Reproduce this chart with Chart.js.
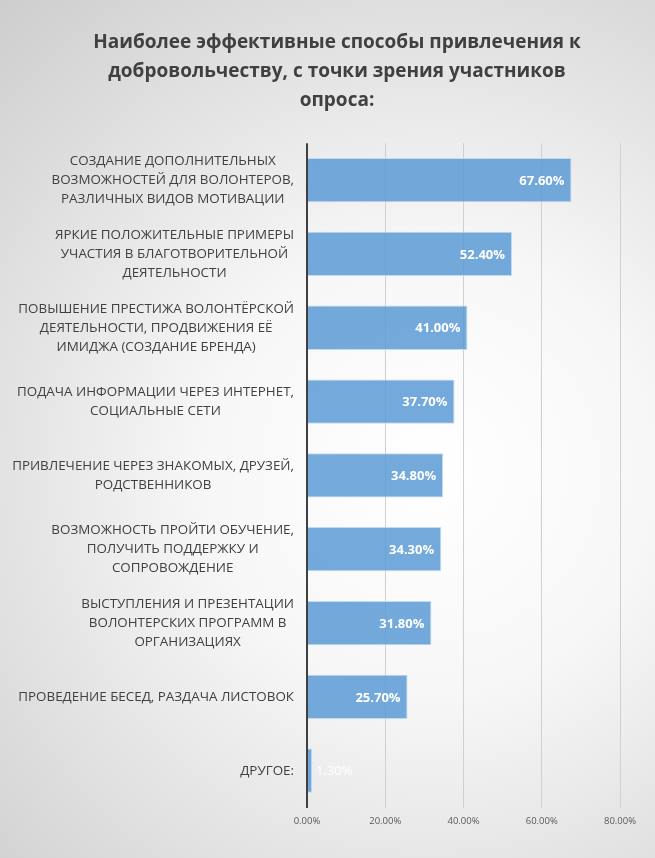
<!DOCTYPE html>
<html>
<head>
<meta charset="utf-8">
<script src="https://cdn.jsdelivr.net/npm/chart.js@4.4.1/dist/chart.umd.min.js"></script>
<style>
  html, body { margin: 0; padding: 0; background: #e6e6e6; }
  #wrap { width: 655px; height: 858px; position: relative; }
  canvas { display: block; }
</style>
</head>
<body>
<div id="wrap"><canvas id="c" width="655" height="858"></canvas></div>
<script>
const titleLines = [
  "Наиболее эффективные способы привлечения к",
  "добровольчеству, с точки зрения участников",
  "опроса:"
];
const categories = [
  ["СОЗДАНИЕ ДОПОЛНИТЕЛЬНЫХ", "ВОЗМОЖНОСТЕЙ ДЛЯ ВОЛОНТЕРОВ,", "РАЗЛИЧНЫХ ВИДОВ МОТИВАЦИИ"],
  ["ЯРКИЕ ПОЛОЖИТЕЛЬНЫЕ ПРИМЕРЫ", "УЧАСТИЯ В БЛАГОТВОРИТЕЛЬНОЙ", "ДЕЯТЕЛЬНОСТИ"],
  ["ПОВЫШЕНИЕ ПРЕСТИЖА ВОЛОНТЁРСКОЙ", "ДЕЯТЕЛЬНОСТИ, ПРОДВИЖЕНИЯ ЕЁ", "ИМИДЖА (СОЗДАНИЕ БРЕНДА)"],
  ["ПОДАЧА ИНФОРМАЦИИ ЧЕРЕЗ ИНТЕРНЕТ,", "СОЦИАЛЬНЫЕ СЕТИ"],
  ["ПРИВЛЕЧЕНИЕ ЧЕРЕЗ ЗНАКОМЫХ, ДРУЗЕЙ,", "РОДСТВЕННИКОВ"],
  ["ВОЗМОЖНОСТЬ ПРОЙТИ ОБУЧЕНИЕ,", "ПОЛУЧИТЬ ПОДДЕРЖКУ И", "СОПРОВОЖДЕНИЕ"],
  ["ВЫСТУПЛЕНИЯ И ПРЕЗЕНТАЦИИ", "ВОЛОНТЕРСКИХ ПРОГРАММ В", "ОРГАНИЗАЦИЯХ"],
  ["ПРОВЕДЕНИЕ БЕСЕД, РАЗДАЧА ЛИСТОВОК"],
  ["ДРУГОЕ:"]
];
const values = [67.6, 52.4, 41.0, 37.7, 34.8, 34.3, 31.8, 25.7, 1.3];
const xTicks = [0, 20, 40, 60, 80];

const FONT = "'Open Sans', 'DejaVu Sans', sans-serif";

const bgPlugin = {
  id: 'bg',
  beforeDraw(chart) {
    const ctx = chart.ctx, w = chart.width, h = chart.height;
    ctx.save();
    const g = ctx.createRadialGradient(430, 470, 0, 430, 470, 640);
    g.addColorStop(0, '#ffffff');
    g.addColorStop(0.35, '#f7f7f7');
    g.addColorStop(1, '#cdcdcd');
    ctx.fillStyle = g;
    ctx.fillRect(0, 0, w, h);
    ctx.restore();
  }
};

const catLabelPlugin = {
  id: 'catLabels',
  afterDraw(chart) {
    const ctx = chart.ctx;
    const ys = chart.scales.y;
    const right = chart.chartArea.left - 13;
    const lineH = 19;
    ctx.save();
    ctx.font = "13.4px " + FONT;
    ctx.fillStyle = '#404040';
    ctx.textBaseline = 'middle';
    ctx.textAlign = 'center';
    categories.forEach((lines, i) => {
      const y = ys.getPixelForTick(i);
      let maxW = 0;
      lines.forEach(l => { maxW = Math.max(maxW, ctx.measureText(l).width); });
      const cx = right - maxW / 2;
      const y0 = y - (lines.length - 1) * lineH / 2;
      lines.forEach((l, k) => ctx.fillText(l, cx, y0 + k * lineH));
    });
    ctx.restore();
  }
};

const valueLabelPlugin = {
  id: 'valueLabels',
  afterDatasetsDraw(chart) {
    const ctx = chart.ctx;
    const meta = chart.getDatasetMeta(0);
    ctx.save();
    ctx.textBaseline = 'middle';
    ctx.fillStyle = '#ffffff';
    meta.data.forEach((bar, i) => {
      const txt = values[i].toFixed(2) + '%';
      ctx.font = "bold 13px " + FONT;
      const w = ctx.measureText(txt).width;
      const barW = bar.x - bar.base;
      if (w + 14 < barW) {
        ctx.textAlign = 'right';
        ctx.fillText(txt, bar.x - 7, bar.y + 1);
      } else {
        ctx.font = "13px " + FONT;
        ctx.textAlign = 'left';
        ctx.fillText(txt, bar.x + 4, bar.y + 1);
      }
    });
    ctx.restore();
  }
};

new Chart(document.getElementById('c'), {
  type: 'bar',
  data: {
    labels: categories,
    datasets: [{
      data: values,
      backgroundColor: 'rgba(91,155,213,0.85)',
      borderColor: 'rgba(189,215,238,0.9)',
      borderWidth: 1,
      borderSkipped: 'start',
      barPercentage: 0.6,
      categoryPercentage: 1.0
    }]
  },
  options: {
    indexAxis: 'y',
    responsive: false,
    animation: false,
    devicePixelRatio: 1,
    layout: { padding: { left: 54, right: 35, top: 0, bottom: 23 } },
    plugins: {
      legend: { display: false },
      tooltip: { enabled: false },
      title: {
        display: true,
        text: titleLines,
        color: '#404040',
        font: { family: FONT, size: 19, weight: 'bold', lineHeight: 1.53 },
        padding: { top: 28, bottom: 28 }
      }
    },
    scales: {
      x: {
        min: 0,
        max: 80,
        afterBuildTicks(scale) { scale.ticks = xTicks.map(v => ({ value: v })); },
        ticks: {
          callback: v => v.toFixed(2) + '%',
          color: '#595959',
          font: { family: FONT, size: 9.5 },
          padding: 8
        },
        grid: {
          drawTicks: false,
          color: ctx => ctx.tick && ctx.tick.value === 0 ? '#404040' : '#d0d0d0',
          lineWidth: ctx => ctx.tick && ctx.tick.value === 0 ? 2 : 1
        },
        border: { display: false }
      },
      y: {
        grid: { display: false, drawTicks: false },
        border: { display: false },
        ticks: { display: false },
        afterFit(scale) { scale.width = 253; }
      }
    }
  },
  plugins: [bgPlugin, valueLabelPlugin, catLabelPlugin]
});
</script>
</body>
</html>
